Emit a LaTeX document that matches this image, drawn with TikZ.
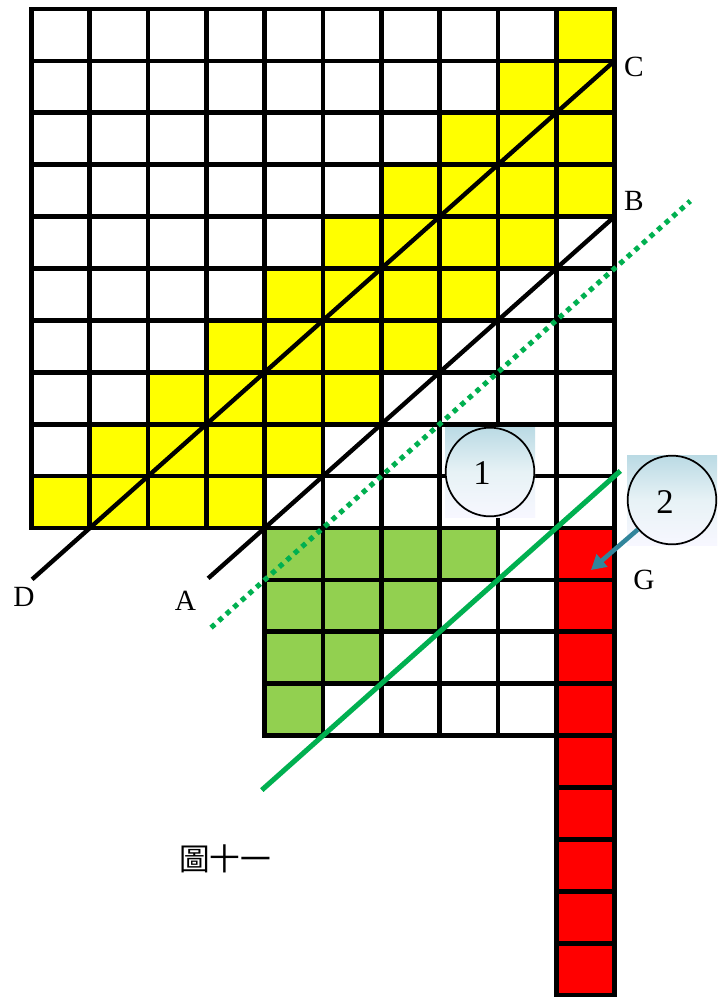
\documentclass[tikz,border=0pt]{standalone}
\usepackage{fontspec}
\setmainfont{Liberation Serif}
\newfontfamily\cjk{Noto Sans CJK TC}
\usetikzlibrary{arrows.meta}
\definecolor{myyellow}{RGB}{255,255,0}
\definecolor{mygreen}{RGB}{146,208,80}
\definecolor{linegreen}{RGB}{0,176,80}
\definecolor{myred}{RGB}{255,0,0}
\definecolor{arrteal}{RGB}{49,133,155}
\definecolor{calloutblue}{RGB}{186,218,228}
\begin{document}
\begin{tikzpicture}[x=0.75pt,y=-0.75pt,
  gridline/.style={line width=3.5pt,line cap=rect},
  diagline/.style={line width=3.3pt,black},
  dotline/.style={line width=3.8pt,linegreen,dash pattern=on 3.8pt off 3.8pt},
  greenline/.style={line width=3.8pt,linegreen},
  callbg/.style={top color=calloutblue,bottom color=white!97!blue,middle color=calloutblue!35!white},
  callcirc/.style={circle,draw=black,line width=1.3pt,minimum size=66.5pt,inner sep=0pt},
  lettr/.style={inner sep=0pt,font=\fontsize{22}{26}\selectfont},
  digit/.style={inner sep=0pt,font=\fontsize{26}{30}\selectfont}]
\useasboundingbox (0,0) rectangle (723,997);
\fill[white] (0,0) rectangle (723,997);

\begin{scope}[shift={(31.5,9)},x=43.725pt,y=-38.925pt]
  % yellow cells
  \foreach \j in {0,...,9} {
    \pgfmathtruncatemacro\a{9-\j}
    \pgfmathtruncatemacro\b{min(10,13-\j)}
    \fill[myyellow] (\a,\j) rectangle (\b,\j+1);
  }
  % green cells
  \fill[mygreen] (4,10) rectangle (8,11);
  \fill[mygreen] (4,11) rectangle (7,12);
  \fill[mygreen] (4,12) rectangle (6,13);
  \fill[mygreen] (4,13) rectangle (5,14);
  % red column
  \fill[myred] (9,10) rectangle (10,19);
  % grid lines
  \foreach \i in {0,...,10} \draw[gridline] (\i,0) -- (\i,10);
  \foreach \j in {0,...,10} \draw[gridline] (0,\j) -- (10,\j);
  \foreach \i in {4,...,8} \draw[gridline] (\i,10) -- (\i,14);
  \draw[gridline] (9,10) -- (9,19);
  \draw[gridline] (10,10) -- (10,19);
  \foreach \j in {11,...,14} \draw[gridline] (4,\j) -- (10,\j);
  \foreach \j in {15,...,19} \draw[gridline] (9,\j) -- (10,\j);
  % diagonals
  \coordinate (cC) at (10,1);
  \coordinate (cD) at (0.01,10.99);
  \coordinate (cB) at (10,4);
  \coordinate (cA) at (3.03,10.97);
  \coordinate (dotA) at (3.08,11.92);
  \coordinate (dotB) at (11.3,3.7);
  \coordinate (grA) at (3.95,15.05);
  \coordinate (grB) at (10.1,8.9);
  \draw[diagline] (cC) -- (cD);
  \draw[diagline] (cB) -- (cA);
  \draw[dotline] (dotA) -- (dotB);
  \draw[greenline] (grA) -- (grB);
\end{scope}

% callout 1
\shade[callbg] (445,427) rectangle (535,517);
\node[callcirc] (c1) at (490,472) {};
\node[digit] (n1) at (482,473) {1};
% callout 2
\shade[callbg] (627,455) rectangle (717,545);
\node[callcirc] (c2) at (672,500) {};
\node[digit] (n2) at (665,502) {2};
% arrow
\coordinate (arrE) at (591,570);
\draw[arrteal,line width=3.4pt,-{Triangle[length=11pt,width=12pt]}] (c2) -- (arrE);

% labels
\node[lettr] (lC) at (634,67) {C};
\node[lettr] (lB) at (634,201) {B};
\node[lettr] (lG) at (644,580) {G};
\node[lettr] (lD) at (24,597) {D};
\node[lettr] (lA) at (185.5,601) {A};
\node[inner sep=0pt,font=\cjk\fontsize{23}{28}\selectfont] (cap) at (225,859) {圖十一};
\end{tikzpicture}
\end{document}
